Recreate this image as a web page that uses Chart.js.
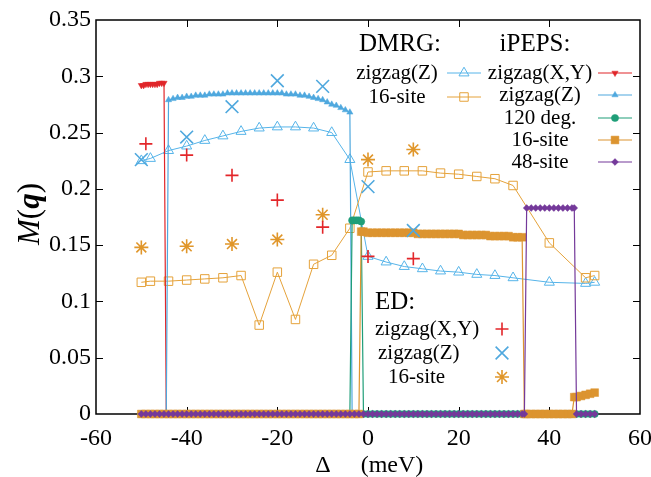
<!DOCTYPE html>
<html>
<head>
<meta charset="utf-8">
<script src="https://cdn.jsdelivr.net/npm/chart.js@4/dist/chart.umd.min.js"></script>
<style>
  html, body { margin: 0; padding: 0; background: #fff; }
  canvas { display: block; }
</style>
</head>
<body>
<canvas id="chart" width="651" height="477"></canvas>
<script>
// axis ticks
const xTicks = [-60, -40, -20, 0, 20, 40, 60];
const yTicks = [0, 0.05, 0.1, 0.15, 0.2, 0.25, 0.3, 0.35];

// legend texts
const dmrgLabels = ['zigzag(Z)', '16-site'];
const ipepsLabels = ['zigzag(X,Y)', 'zigzag(Z)', '120 deg.', '16-site', '48-site'];
const edLabels = ['zigzag(X,Y)', 'zigzag(Z)', '16-site'];

// DMRG
const dmrgZigZX = [-50, -48, -44, -40, -36, -32, -28, -24, -20, -16, -12, -8, -4, 0, 4, 8, 12, 16, 20, 24, 28, 32, 40, 48, 50];
const dmrgZigZY = [0.225, 0.227, 0.234, 0.238, 0.243, 0.247, 0.251, 0.254, 0.255, 0.255, 0.254, 0.250, 0.226, 0.140, 0.135, 0.131, 0.129, 0.127, 0.126, 0.124, 0.123, 0.121, 0.117, 0.116, 0.117];
const dmrg16X = [-50, -48, -44, -40, -36, -32, -28, -24, -20, -16, -12, -8, -4, 0, 4, 8, 12, 16, 20, 24, 28, 32, 40, 48, 50];
const dmrg16Y = [0.117, 0.118, 0.118, 0.119, 0.120, 0.121, 0.123, 0.079, 0.126, 0.084, 0.133, 0.141, 0.165, 0.215, 0.216, 0.216, 0.216, 0.214, 0.213, 0.211, 0.209, 0.203, 0.152, 0.121, 0.123];

// iPEPS zigzag(X,Y)
const ipepsXYX = [-50, -49.5, -49, -48.5, -48, -47.5, -47, -46.5, -46, -45.5, -45, -44.5,
  -44, -43, -42, -41, -40, -39, -38, -37, -36, -35, -34, -33, -32, -31, -30, -29, -28, -27, -26, -25, -24, -23, -22, -21,
  -20, -19, -18, -17, -16, -15, -14, -13, -12, -11, -10, -9, -8, -7, -6, -5, -4, -3, -2, -1,
  0, 1, 2, 3, 4, 5, 6, 7, 8, 9, 10, 11, 12, 13, 14, 15, 16, 17, 18, 19, 20, 21, 22, 23, 24, 25,
  26, 27, 28, 29, 30, 31, 32, 33, 34, 35, 36, 37, 38, 39, 40, 41, 42, 43, 44, 45, 46, 47, 48, 49, 50];
const ipepsXYY = [0.292, 0.292, 0.293, 0.293, 0.293, 0.293, 0.293, 0.293, 0.294, 0.294, 0.294,
  0, 0, 0, 0, 0, 0, 0, 0, 0, 0,
  0, 0, 0, 0, 0, 0, 0, 0, 0, 0,
  0, 0, 0, 0, 0, 0, 0, 0, 0, 0,
  0, 0, 0, 0, 0, 0, 0, 0, 0, 0,
  0, 0, 0, 0, 0, 0, 0, 0, 0, 0,
  0, 0, 0, 0, 0, 0, 0, 0, 0, 0,
  0, 0, 0, 0, 0, 0, 0, 0, 0, 0,
  0, 0, 0, 0, 0, 0, 0, 0, 0, 0,
  0, 0, 0, 0, 0, 0, 0, 0, 0, 0,
  0, 0, 0, 0, 0, 0];

// iPEPS zigzag(Z)
const ipepsZX = [-50, -49, -48, -47, -46, -45, -44.5,
  -44, -43, -42, -41, -40, -39, -38, -37, -36, -35, -34, -33, -32, -31, -30, -29, -28, -27, -26, -25, -24, -23, -22, -21,
  -20, -19, -18, -17, -16, -15, -14, -13, -12, -11, -10, -9, -8, -7, -6, -5, -4, -3.5,
  -3, -2, -1, 0, 1, 2, 3, 4, 5, 6, 7, 8, 9, 10, 11, 12, 13, 14, 15, 16, 17, 18, 19, 20, 21, 22, 23, 24, 25,
  26, 27, 28, 29, 30, 31, 32, 33, 34, 35, 36, 37, 38, 39, 40, 41, 42, 43, 44, 45, 46, 47, 48, 49, 50];
const ipepsZY = [0, 0, 0, 0, 0, 0, 0,
  0.279, 0.280, 0.281, 0.281, 0.282, 0.282, 0.283, 0.283, 0.283, 0.284,
  0.284, 0.284, 0.284, 0.285, 0.285, 0.285, 0.285, 0.285, 0.285, 0.285,
  0.285, 0.285, 0.285, 0.285, 0.285, 0.285, 0.284, 0.284, 0.284, 0.283,
  0.283, 0.282, 0.281, 0.280, 0.279, 0.277, 0.275, 0.274, 0.272, 0.270,
  0.268,
  0, 0, 0, 0, 0, 0, 0, 0, 0, 0,
  0, 0, 0, 0, 0, 0, 0, 0, 0, 0,
  0, 0, 0, 0, 0, 0, 0, 0, 0, 0,
  0, 0, 0, 0, 0, 0, 0, 0, 0, 0,
  0, 0, 0, 0, 0, 0, 0, 0, 0, 0,
  0, 0, 0, 0, 0];

// iPEPS 120 deg.
const ipeps120X = [-50, -49, -48, -47, -46, -45,
  -44, -43, -42, -41, -40, -39, -38, -37, -36, -35, -34, -33, -32, -31, -30, -29, -28, -27, -26, -25, -24, -23, -22, -21,
  -20, -19, -18, -17, -16, -15, -14, -13, -12, -11, -10, -9, -8, -7, -6, -5, -4,
  -3.5, -3, -2.5, -2, -1.5,
  -1, 0, 1, 2, 3, 4, 5, 6, 7, 8, 9, 10, 11, 12, 13, 14, 15, 16, 17, 18, 19, 20, 21, 22, 23, 24, 25,
  26, 27, 28, 29, 30, 31, 32, 33, 34, 35, 36, 37, 38, 39, 40, 41, 42, 43, 44, 45, 46, 47, 48, 49, 50];
const ipeps120Y = [0, 0, 0, 0, 0, 0, 0, 0, 0, 0,
  0, 0, 0, 0, 0, 0, 0, 0, 0, 0,
  0, 0, 0, 0, 0, 0, 0, 0, 0, 0,
  0, 0, 0, 0, 0, 0, 0, 0, 0, 0,
  0, 0, 0, 0, 0, 0, 0,
  0.172, 0.172, 0.172, 0.172, 0.171,
  0, 0, 0, 0, 0, 0, 0, 0, 0, 0,
  0, 0, 0, 0, 0, 0, 0, 0, 0, 0,
  0, 0, 0, 0, 0, 0, 0, 0, 0, 0,
  0, 0, 0, 0, 0, 0, 0, 0, 0, 0,
  0, 0, 0, 0, 0, 0, 0, 0, 0, 0,
  0, 0];

// iPEPS 16-site
const ipeps16X = [-50, -49, -48, -47, -46, -45,
  -44, -43, -42, -41, -40, -39, -38, -37, -36, -35, -34, -33, -32, -31, -30, -29, -28, -27, -26, -25, -24, -23, -22, -21,
  -20, -19, -18, -17, -16, -15, -14, -13, -12, -11, -10, -9, -8, -7, -6, -5, -4, -3, -2,
  -1.5, -1,
  0, 1, 2, 3, 4, 5, 6, 7, 8, 9, 10, 11, 12, 13, 14, 15, 16, 17, 18, 19, 20, 21, 22, 23, 24, 25,
  26, 27, 28, 29, 30, 31, 32, 33, 34, 34.5,
  35, 36, 37, 38, 39, 40, 41, 42, 43, 44, 45, 45.5,
  46, 47, 48, 49, 50];
const ipeps16Y = [0, 0, 0, 0, 0, 0, 0, 0, 0, 0,
  0, 0, 0, 0, 0, 0, 0, 0, 0, 0,
  0, 0, 0, 0, 0, 0, 0, 0, 0, 0,
  0, 0, 0, 0, 0, 0, 0, 0, 0, 0,
  0, 0, 0, 0, 0, 0, 0, 0, 0,
  0.162, 0.162,
  0.161, 0.161, 0.161, 0.161, 0.161, 0.161, 0.161, 0.161, 0.161, 0.161,
  0.161, 0.160, 0.160, 0.160, 0.160, 0.160, 0.160, 0.160, 0.160, 0.160,
  0.160, 0.159, 0.159, 0.159, 0.159, 0.159, 0.159, 0.158, 0.158, 0.158,
  0.158, 0.158, 0.157, 0.157, 0.157, 0,
  0, 0, 0, 0, 0, 0, 0, 0, 0, 0, 0, 0.015,
  0.015, 0.016, 0.017, 0.018, 0.019];

// iPEPS 48-site
const ipeps48X = [-50, -49, -48, -47, -46, -45,
  -44, -43, -42, -41, -40, -39, -38, -37, -36, -35, -34, -33, -32, -31, -30, -29, -28, -27, -26, -25, -24, -23, -22, -21,
  -20, -19, -18, -17, -16, -15, -14, -13, -12, -11, -10, -9, -8, -7, -6, -5, -4, -3, -2, -1,
  0, 1, 2, 3, 4, 5, 6, 7, 8, 9, 10, 11, 12, 13, 14, 15, 16, 17, 18, 19, 20, 21, 22, 23, 24, 25,
  26, 27, 28, 29, 30, 31, 32, 33, 34, 34.5,
  35, 36, 37, 38, 39, 40, 41, 42, 43, 44, 45, 45.5,
  46, 47, 48, 49, 50];
const ipeps48Y = [0, 0, 0, 0, 0, 0, 0, 0, 0, 0,
  0, 0, 0, 0, 0, 0, 0, 0, 0, 0,
  0, 0, 0, 0, 0, 0, 0, 0, 0, 0,
  0, 0, 0, 0, 0, 0, 0, 0, 0, 0,
  0, 0, 0, 0, 0, 0, 0, 0, 0, 0,
  0, 0, 0, 0, 0, 0, 0, 0, 0, 0,
  0, 0, 0, 0, 0, 0, 0, 0, 0, 0,
  0, 0, 0, 0, 0, 0, 0, 0, 0, 0,
  0, 0, 0, 0, 0, 0,
  0.183, 0.183, 0.183, 0.183, 0.183, 0.183, 0.183, 0.183, 0.183, 0.183, 0.183, 0.183,
  0, 0, 0, 0, 0];

// ED
const edXYX = [-49, -40, -30, -20, -10, 0, 10];
const edXYY = [0.240, 0.230, 0.212, 0.190, 0.166, 0.140, 0.138];
const edZX = [-50, -40, -30, -20, -10, 0, 10];
const edZY = [0.226, 0.246, 0.273, 0.296, 0.291, 0.202, 0.163];
const ed16X = [-50, -40, -30, -20, -10, 0, 10];
const ed16Y = [0.148, 0.149, 0.151, 0.155, 0.177, 0.226, 0.235];

const SERIF = 'Liberation Serif, DejaVu Serif, serif';
const NONE = 'rgba(0,0,0,0)';
Chart.defaults.font.family = SERIF;

function series(label, xs, ys, style) {
    return Object.assign({
        label,
        data: xs.map((x, i) => ({ x, y: ys[i] })),
        clip: false,
        showLine: true,
        pointHoverRadius: 0
    }, style);
}

const dmrgZ = series('DMRG zigzag(Z)', dmrgZigZX, dmrgZigZY, {
    borderColor: '#56b4e9', borderWidth: 1, pointStyle: 'triangle', pointRadius: 5.8,
    pointBorderWidth: 1, pointBackgroundColor: NONE, pointBorderColor: '#56b4e9', order: 7
});
const dmrg16 = series('DMRG 16-site', dmrg16X, dmrg16Y, {
    borderColor: '#e5a23a', borderWidth: 1, pointStyle: 'rect', pointRadius: 6,
    pointBorderWidth: 1, pointBackgroundColor: NONE, pointBorderColor: '#e5a23a', order: 6
});
const ipepsXY = series('iPEPS zigzag(X,Y)', ipepsXYX, ipepsXYY, {
    borderColor: '#e0262a', borderWidth: 1.2, pointStyle: 'triangle', pointRotation: 180, pointRadius: 3.6,
    pointBorderWidth: 0.5, pointBackgroundColor: '#e0262a', pointBorderColor: '#e0262a', order: 5
});
const ipepsZ = series('iPEPS zigzag(Z)', ipepsZX, ipepsZY, {
    borderColor: '#4fa8de', borderWidth: 1.2, pointStyle: 'triangle', pointRadius: 3.6,
    pointBorderWidth: 0.5, pointBackgroundColor: '#4fa8de', pointBorderColor: '#4fa8de', order: 4
});
const ipeps120 = series('iPEPS 120 deg.', ipeps120X, ipeps120Y, {
    borderColor: '#1f9e78', borderWidth: 1.2, pointStyle: 'circle', pointRadius: 3.6,
    pointBorderWidth: 0.5, pointBackgroundColor: '#1f9e78', pointBorderColor: '#1f9e78', order: 3
});
const ipeps16 = series('iPEPS 16-site', ipeps16X, ipeps16Y, {
    borderColor: '#dc9430', borderWidth: 1.2, pointStyle: 'rect', pointRadius: 5.5,
    pointBorderWidth: 0.5, pointBackgroundColor: '#dc9430', pointBorderColor: '#dc9430', order: 2
});
const ipeps48 = series('iPEPS 48-site', ipeps48X, ipeps48Y, {
    borderColor: '#74399a', borderWidth: 1.2, pointStyle: 'rectRot', pointRadius: 3.4,
    pointBorderWidth: 0.5, pointBackgroundColor: '#74399a', pointBorderColor: '#74399a', order: 1
});
const edXY = series('ED zigzag(X,Y)', edXYX, edXYY, {
    showLine: false, borderColor: '#e3262a', pointStyle: 'cross', pointRadius: 6.5,
    pointBorderWidth: 1.6, pointBorderColor: '#e3262a', pointBackgroundColor: NONE, order: 0
});
const edZ = series('ED zigzag(Z)', edZX, edZY, {
    showLine: false, borderColor: '#4fa8de', pointStyle: 'crossRot', pointRadius: 9,
    pointBorderWidth: 1.6, pointBorderColor: '#4fa8de', pointBackgroundColor: NONE, order: 0
});
const ed16 = series('ED 16-site', ed16X, ed16Y, {
    showLine: false, borderColor: '#e0962a', pointStyle: 'star', pointRadius: 7,
    pointBorderWidth: 1.6, pointBorderColor: '#e0962a', pointBackgroundColor: NONE, order: 0
});

// box, inward ticks on all four sides
const frame = {
    id: 'frame',
    beforeDatasetsDraw(chart) {
        const { ctx, chartArea: a, scales } = chart;
        ctx.save();
        ctx.strokeStyle = '#000';
        ctx.lineWidth = 1;
        ctx.beginPath();
        xTicks.slice(1, -1).forEach(v => {
            const px = Math.round(scales.x.getPixelForValue(v)) + 0.5;
            ctx.moveTo(px, a.bottom); ctx.lineTo(px, a.bottom - 7);
            ctx.moveTo(px, a.top); ctx.lineTo(px, a.top + 7);
        });
        yTicks.slice(1, -1).forEach(v => {
            const py = Math.round(scales.y.getPixelForValue(v)) + 0.5;
            ctx.moveTo(a.left, py); ctx.lineTo(a.left + 7, py);
            ctx.moveTo(a.right, py); ctx.lineTo(a.right - 7, py);
        });
        ctx.stroke();
        ctx.lineWidth = 1.5;
        ctx.strokeRect(a.left, a.top, a.right - a.left, a.bottom - a.top);
        ctx.restore();
    }
};

function drawSample(ctx, ds, cx, cy, withLine) {
    if (withLine) {
        ctx.strokeStyle = ds.borderColor;
        ctx.lineWidth = ds.borderWidth;
        ctx.beginPath();
        ctx.moveTo(cx - 17, cy);
        ctx.lineTo(cx + 17, cy);
        ctx.stroke();
    }
    ctx.fillStyle = ds.pointBackgroundColor;
    ctx.strokeStyle = ds.pointBorderColor;
    ctx.lineWidth = ds.pointBorderWidth;
    Chart.helpers.drawPoint(ctx, {
        pointStyle: ds.pointStyle,
        rotation: ds.pointRotation || 0,
        radius: ds.pointRadius,
        borderWidth: ds.pointBorderWidth
    }, cx, cy);
}

const legendBoxes = {
    id: 'legendBoxes',
    afterDatasetsDraw(chart) {
        const { ctx } = chart;
        ctx.save();
        ctx.fillStyle = '#000';
        ctx.textBaseline = 'middle';
        ctx.textAlign = 'center';
        ctx.font = '25px ' + SERIF;
        ctx.fillText('DMRG:', 400, 44);
        ctx.fillText('iPEPS:', 535, 44);
        ctx.textAlign = 'left';
        ctx.fillText('ED:', 375, 302);

        const dmrgRows = [73, 97];
        [dmrgZ, dmrg16].forEach((ds, i) => {
            ctx.fillStyle = '#000';
            ctx.textAlign = 'center';
            ctx.font = '21px ' + SERIF;
            ctx.fillText(dmrgLabels[i], 397, dmrgRows[i]);
            drawSample(ctx, ds, 464, dmrgRows[i], true);
        });
        const ipepsRows = [73, 95, 118, 140, 162];
        [ipepsXY, ipepsZ, ipeps120, ipeps16, ipeps48].forEach((ds, i) => {
            ctx.fillStyle = '#000';
            ctx.textAlign = 'center';
            ctx.font = '21px ' + SERIF;
            ctx.fillText(ipepsLabels[i], 540, ipepsRows[i]);
            drawSample(ctx, ds, 615, ipepsRows[i], true);
        });
        const edRows = [329, 353, 377];
        const edLeft = [375, 378, 388];
        [edXY, edZ, ed16].forEach((ds, i) => {
            ctx.fillStyle = '#000';
            ctx.textAlign = 'left';
            ctx.font = '21px ' + SERIF;
            ctx.fillText(edLabels[i], edLeft[i], edRows[i]);
            drawSample(ctx, ds, 502, edRows[i], false);
        });
        ctx.restore();
    }
};

const axisTitles = {
    id: 'axisTitles',
    afterDraw(chart) {
        const { ctx } = chart;
        ctx.save();
        ctx.fillStyle = '#000';
        ctx.textBaseline = 'middle';
        ctx.textAlign = 'left';
        // M(q), rotated
        const parts = [
            ['M', 'italic 31px '],
            ['(', '31px '],
            ['q', 'italic bold 31px '],
            [')', '31px ']
        ];
        let total = 0;
        parts.forEach(p => { ctx.font = p[1] + SERIF; total += ctx.measureText(p[0]).width; });
        ctx.translate(31, 214);
        ctx.rotate(-Math.PI / 2);
        let x = -total / 2;
        parts.forEach(p => {
            ctx.font = p[1] + SERIF;
            ctx.fillText(p[0], x, 0);
            x += ctx.measureText(p[0]).width;
        });
        ctx.setTransform(1, 0, 0, 1, 0, 0);
        ctx.textAlign = 'center';
        ctx.font = '24px ' + SERIF;
        ctx.fillText('\u0394', 323, 466);
        ctx.fillText('(meV)', 392, 466);
        ctx.restore();
    }
};

new Chart(document.getElementById('chart'), {
    type: 'scatter',
    data: {
        datasets: [edXY, edZ, ed16, ipeps48, ipeps16, ipeps120, ipepsZ, ipepsXY, dmrg16, dmrgZ]
    },
    options: {
        responsive: false,
        animation: false,
        events: [],
        layout: { padding: { top: 20, right: 11, left: 0, bottom: 0 } },
        scales: {
            x: {
                type: 'linear',
                min: -60,
                max: 60,
                afterBuildTicks: axis => { axis.ticks = xTicks.map(v => ({ value: v })); },
                afterFit: axis => {
                    axis.height = 63;
                    axis.paddingLeft = 0;
                    axis.paddingRight = 0;
                },
                grid: { display: false, drawTicks: false },
                border: { display: false },
                ticks: {
                    autoSkip: false,
                    maxRotation: 0,
                    padding: 10,
                    color: '#000',
                    font: { family: SERIF, size: 24 },
                    callback: v => String(v)
                }
            },
            y: {
                type: 'linear',
                min: 0,
                max: 0.35,
                afterBuildTicks: axis => { axis.ticks = yTicks.map(v => ({ value: v })); },
                afterFit: axis => {
                    axis.width = 96;
                    axis.paddingTop = 0;
                    axis.paddingBottom = 0;
                },
                grid: { display: false, drawTicks: false },
                border: { display: false },
                ticks: {
                    padding: 5,
                    color: '#000',
                    font: { family: SERIF, size: 24 },
                    callback: v => String(+v.toFixed(2))
                }
            }
        },
        plugins: {
            legend: { display: false },
            tooltip: { enabled: false }
        }
    },
    plugins: [frame, legendBoxes, axisTitles]
});
</script>
</body>
</html>
